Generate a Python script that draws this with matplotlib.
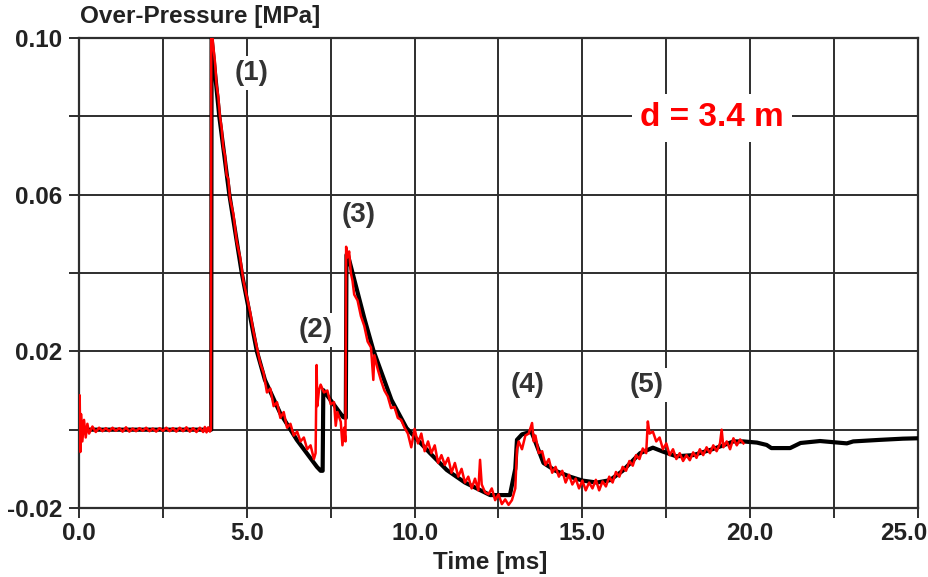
import matplotlib
matplotlib.use("Agg")
import matplotlib.pyplot as plt
from matplotlib.ticker import FixedLocator, FixedFormatter

plt.rcParams['font.family'] = ['Liberation Sans', 'DejaVu Sans']

# ---------------- data ----------------
# simulation (black)
sim_t = [0.0, 3.94, 3.95, 4.18, 4.48, 4.85, 5.3, 5.54, 5.99, 6.49, 7.09, 7.2, 7.26,
         7.28, 7.5, 7.87, 7.95, 7.97, 8.0, 8.23, 8.5, 8.77, 9.31, 9.76, 10.46, 10.96,
         11.5, 12.25, 12.84, 13.0, 13.05, 13.2, 13.48, 13.84, 14.2, 14.63, 15.0, 15.43,
         15.82, 16.2, 16.72, 17.1, 17.4, 17.8, 18.3, 18.8, 19.2, 19.5, 19.8, 20.2,
         20.49, 20.63, 21.19, 21.5, 22.08, 22.88, 23.07, 23.87, 24.55, 25.0]
sim_p = [0.0, 0.0, 0.100, 0.080, 0.060, 0.040, 0.020, 0.0127, 0.0043, -0.0026, -0.0095,
         -0.0105, -0.0105, 0.0101, 0.0075, 0.0032, 0.0030, 0.0446, 0.0450, 0.0374, 0.0285,
         0.0203, 0.0076, 0.0004, -0.0060, -0.0103, -0.0135, -0.0167, -0.0167, -0.0100,
         -0.0026, -0.0012, -0.0005, -0.0085, -0.0105, -0.0120, -0.0130, -0.0135, -0.0129,
         -0.0105, -0.0060, -0.0046, -0.0056, -0.0068, -0.0065, -0.0052, -0.0040, -0.0030,
         -0.0030, -0.0033, -0.0039, -0.0047, -0.0047, -0.0034, -0.0029, -0.0035, -0.0030,
         -0.0026, -0.0023, -0.0022]

# experiment (red)
exp_t = [0.0, 0.02, 0.04, 0.06, 0.1, 0.15, 0.2, 0.25, 0.3, 0.4, 0.5, 0.6, 0.7, 0.8, 0.9,
         1.0, 1.1, 1.2, 1.3, 1.4, 1.5, 1.6, 1.7, 1.8, 1.9, 2.0, 2.1, 2.2, 2.3, 2.4, 2.5,
         2.6, 2.7, 2.8, 2.9, 3.0, 3.1, 3.2, 3.3, 3.4, 3.5, 3.6, 3.7, 3.75, 3.8, 3.85, 3.9,
         3.93, 3.94, 3.98, 4.0, 4.05, 4.1, 4.15, 4.2, 4.25, 4.3, 4.35, 4.4, 4.45, 4.5, 4.6,
         4.7, 4.8, 4.9, 5.0, 5.1, 5.2, 5.3, 5.4, 5.5, 5.6, 5.7, 5.8, 5.9, 6.0, 6.1, 6.2,
         6.3, 6.4, 6.5, 6.6, 6.7, 6.8, 6.9, 7.0, 7.05, 7.08, 7.1, 7.15, 7.2, 7.3, 7.4, 7.5,
         7.6, 7.65, 7.7, 7.8, 7.85, 7.9, 7.94, 7.96, 8.0, 8.05, 8.1, 8.15, 8.2, 8.3, 8.4,
         8.5, 8.6, 8.7, 8.77, 8.8, 8.9, 9.0, 9.1, 9.2, 9.3, 9.4, 9.5, 9.6, 9.7, 9.8, 9.9,
         10.0, 10.1, 10.2, 10.3, 10.4, 10.5, 10.6, 10.7, 10.8, 10.9, 11.0, 11.1, 11.2, 11.3,
         11.4, 11.5, 11.6, 11.7, 11.8, 11.9, 11.95, 12.0, 12.1, 12.2, 12.3, 12.4, 12.5, 12.6,
         12.7, 12.8, 12.9, 13.0, 13.05, 13.1, 13.2, 13.3, 13.4, 13.5, 13.55, 13.6, 13.7,
         13.8, 13.9, 14.0, 14.1, 14.2, 14.3, 14.4, 14.5, 14.6, 14.7, 14.8, 14.9, 15.0, 15.1,
         15.2, 15.3, 15.4, 15.5, 15.6, 15.7, 15.8, 15.9, 16.0, 16.1, 16.2, 16.3, 16.4, 16.5,
         16.6, 16.7, 16.8, 16.9, 16.95, 17.0, 17.1, 17.2, 17.3, 17.4, 17.5, 17.6, 17.7, 17.8,
         17.9, 18.0, 18.1, 18.2, 18.3, 18.4, 18.5, 18.6, 18.7, 18.8, 18.9, 19.0, 19.1, 19.15,
         19.2, 19.3, 19.4, 19.5, 19.6, 19.7, 19.8]
exp_p = [0.0, 0.0088, -0.0057, 0.0040, -0.0030, 0.0025, -0.0020, 0.0015, -0.0010, 0.0008,
         -0.0006, 0.0005, -0.0004, 0.0004, -0.0004, 0.0005, -0.0003, 0.0004, -0.0005, 0.0006,
         -0.0005, 0.0003, -0.0004, 0.0004, -0.0003, 0.0005, -0.0004, 0.0003, -0.0005, 0.0004,
         -0.0003, 0.0005, -0.0004, 0.0004, -0.0005, 0.0005, -0.0004, 0.0006, -0.0005, 0.0004,
         -0.0006, 0.0005, -0.0006, 0.0007, -0.0007, 0.0006, -0.0005,
         0.0, 0.100, 0.100, 0.098, 0.094, 0.088, 0.085, 0.080, 0.077, 0.072, 0.070, 0.065,
         0.064, 0.059, 0.055, 0.048, 0.044, 0.038, 0.034, 0.030, 0.025, 0.021, 0.017, 0.0145,
         0.0095, 0.0105, 0.0060, 0.0070, 0.0030, 0.0045, 0.0005, 0.0015, -0.0015, -0.0005,
         -0.0030, -0.0020, -0.0050, -0.0040, -0.0075, -0.0060, 0.0165, 0.0060, 0.0100, 0.0115,
         0.0095, 0.0100, 0.0065, 0.0070, 0.0010, 0.0045, 0.0020, -0.0040, 0.0005, -0.0030,
         0.0467, 0.0440, 0.0455, 0.0400, 0.0380, 0.0345, 0.0330, 0.0290, 0.0265, 0.0225,
         0.0210, 0.0127, 0.0190, 0.0155, 0.0125, 0.0100, 0.0085, 0.0055, 0.0058, 0.0030,
         0.0025, 0.0005, -0.0010, -0.0045, 0.0002, -0.0035, -0.0010, -0.0055, -0.0030,
         -0.0060, -0.0040, -0.0085, -0.0065, -0.0090, -0.0072, -0.0110, -0.0085, -0.0120,
         -0.0100, -0.0135, -0.0120, -0.0150, -0.0125, -0.0155, -0.0077, -0.0140, -0.0160,
         -0.0165, -0.0150, -0.0180, -0.0165, -0.0190, -0.0178, -0.0192, -0.0180, -0.0150,
         -0.0050, -0.0030, -0.0050, -0.0015, -0.0010, 0.0017, -0.0030, -0.0015, -0.0060,
         -0.0055, -0.0090, -0.0075, -0.0110, -0.0095, -0.0120, -0.0105, -0.0135, -0.0115,
         -0.0140, -0.0125, -0.0150, -0.0130, -0.0155, -0.0135, -0.0150, -0.0128, -0.0155,
         -0.0132, -0.0145, -0.0120, -0.0135, -0.0108, -0.0120, -0.0095, -0.0105, -0.0080,
         -0.0092, -0.0065, -0.0075, -0.0048, -0.0060, 0.0021, -0.0010, -0.0005, -0.0030,
         -0.0020, -0.0050, -0.0035, -0.0065, -0.0050, -0.0075, -0.0060, -0.0080, -0.0065,
         -0.0078, -0.0058, -0.0072, -0.0050, -0.0065, -0.0045, -0.0060, -0.0040, -0.0055,
         -0.0035, 0.0000, -0.0045, -0.0030, -0.0050, -0.0022, -0.0040, -0.0025, -0.0035]

x_major = [0.0, 5.0, 10.0, 15.0, 20.0, 25.0]
x_major_labels = ["0.0", "5.0", "10.0", "15.0", "20.0", "25.0"]
x_minor = [2.5, 7.5, 12.5, 17.5, 22.5]
y_major = [-0.02, 0.02, 0.06, 0.10]
y_major_labels = ["-0.02", "0.02", "0.06", "0.10"]
y_minor = [0.0, 0.04, 0.08]

peak_labels = ["(1)", "(2)", "(3)", "(4)", "(5)"]
peak_t = [5.15, 7.06, 8.34, 13.38, 16.9]
peak_p = [0.0911, 0.0254, 0.0548, 0.0114, 0.0114]

# ---------------- figure ----------------
fig = plt.figure(figsize=(9.29, 5.77), dpi=100)
ax = fig.add_axes([79/929, 1-508/577, (918-79)/929, (508-38)/577])

grid_col = "#2e2e2e"
txt_col = "#222222"
tick_fs = 17.5

ax.plot(sim_t, sim_p, color="black", lw=3.0, zorder=3, solid_joinstyle="round")
ax.plot(exp_t, exp_p, color="#ff0000", lw=1.8, zorder=4)

ax.set_xlim(0, 25)
ax.set_ylim(-0.02, 0.10)

# last x label is drawn separately so that it stays inside the figure
ax.xaxis.set_major_locator(FixedLocator(x_major))
ax.xaxis.set_major_formatter(FixedFormatter(x_major_labels[:-1] + [""]))
ax.xaxis.set_minor_locator(FixedLocator(x_minor))
ax.yaxis.set_major_locator(FixedLocator(y_major))
ax.yaxis.set_major_formatter(FixedFormatter(y_major_labels))
ax.yaxis.set_minor_locator(FixedLocator(y_minor))

ax.grid(True, which="both", color=grid_col, lw=1.4, zorder=1)
ax.set_axisbelow(True)
ax.tick_params(which="both", direction="out", length=7, width=1.4, color=grid_col)
ax.tick_params(axis="x", which="major", pad=3, labelsize=tick_fs, labelcolor=txt_col)
ax.tick_params(axis="y", which="major", pad=5, labelsize=tick_fs, labelcolor=txt_col)
for lab in ax.get_xticklabels() + ax.get_yticklabels():
    lab.set_fontweight("bold")
for sp in ax.spines.values():
    sp.set_color(grid_col)
    sp.set_linewidth(1.6)

fig.text(927/929, 1-522/577, x_major_labels[-1], ha="right", va="top",
         fontsize=tick_fs, fontweight="bold", color=txt_col)

fig.text(80/929, 1-17/577, "Over-Pressure [MPa]", ha="left", va="center",
         fontsize=17.5, fontweight="bold", color=txt_col)
fig.text(490/929, 1-562/577, "Time [ms]", ha="center", va="center",
         fontsize=17.5, fontweight="bold", color=txt_col)

for lab, t, p in zip(peak_labels, peak_t, peak_p):
    ax.text(t, p, lab, ha="center", va="center", fontsize=20, fontweight="bold",
            color="#333333", zorder=5,
            bbox=dict(facecolor="white", edgecolor="none", pad=3))

ax.text(18.86, 0.0796, "d = 3.4 m", ha="center", va="center", fontsize=24,
        fontweight="bold", color="#ff0000", zorder=5,
        bbox=dict(facecolor="white", edgecolor="none", pad=6))

fig.savefig("out.png", dpi=100)
